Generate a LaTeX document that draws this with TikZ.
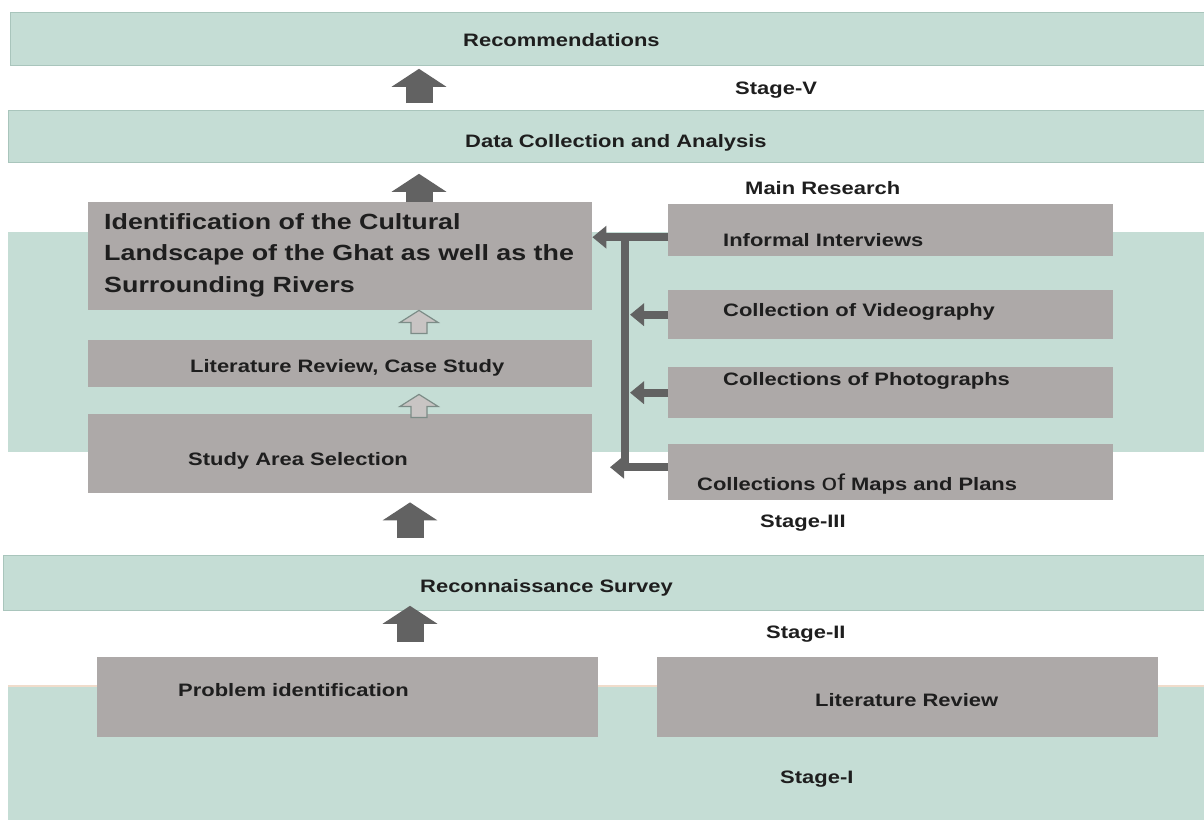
\documentclass[tikz,border=0pt]{standalone}
\usepackage{fontspec}
\setmainfont{Liberation Sans}[FakeStretch=1.22]
\usetikzlibrary{arrows.meta,calc}
\definecolor{teal1}{HTML}{C5DDD5}
\definecolor{tealb}{HTML}{A9C5BC}
\definecolor{boxg}{HTML}{ADA9A8}
\definecolor{dark}{HTML}{626262}
\definecolor{ink}{HTML}{1E1E1E}
\definecolor{hollow}{HTML}{C8C4C3}
\definecolor{holline}{HTML}{7C8C87}
\definecolor{peach}{HTML}{F0DCCB}
\begin{document}
\begin{tikzpicture}[x=1pt,y=-1pt,
  band/.style={fill=teal1, draw=tealb, line width=0.8pt, anchor=north west, inner sep=0pt},
  bgband/.style={fill=teal1, draw=none, anchor=north west, inner sep=0pt},
  greybox/.style={fill=boxg, draw=none, anchor=north west, inner sep=0pt},
  lbl/.style={font=\bfseries\fontsize{18}{20}\selectfont, text=ink, inner sep=0pt, anchor=base west},
  blk/.style={draw=dark, line width=27pt, -{Triangle[width=54pt,length=18pt]}},
  conn/.style={draw=dark, line width=8pt},
  connarr/.style={conn, -{Triangle[width=22pt,length=14pt]}},
  hup/.pic={\path[fill=hollow, draw=holline, line width=1.2pt]
     (-8,0) -- (8,0) -- (8,-11) -- (19,-11) -- (0,-23) -- (-19,-11) -- (-8,-11) -- cycle;}
]
\useasboundingbox (0,0) rectangle (1204,819);
\fill[white] (0,0) rectangle (1204,819);

% bands
\node[band, minimum width=1194pt, minimum height=53pt] (rec) at (10,12) {};
\node[band, minimum width=1196pt, minimum height=52pt] (dc) at (8,110) {};
\node[bgband, minimum width=1196pt, minimum height=220pt] (mr) at (8,232) {};
\node[band, minimum width=1201pt, minimum height=55pt] (rs) at (3,555) {};
\node[bgband, minimum width=1196pt, minimum height=134pt] (s1) at (8,686) {};
\draw[peach, line width=1.5pt] (s1.north west) -- (s1.north east);

% grey boxes
\node[greybox, minimum width=504pt, minimum height=108pt] (idb) at (88,202) {};
\node[greybox, minimum width=504pt, minimum height=47pt] (lrc) at (88,340) {};
\node[greybox, minimum width=504pt, minimum height=79pt] (sas) at (88,414) {};
\node[greybox, minimum width=445pt, minimum height=52pt] (ii) at (668,204) {};
\node[greybox, minimum width=445pt, minimum height=49pt] (cv) at (668,290) {};
\node[greybox, minimum width=445pt, minimum height=51pt] (cp) at (668,367) {};
\node[greybox, minimum width=445pt, minimum height=56pt] (cm) at (668,444) {};
\node[greybox, minimum width=501pt, minimum height=80pt] (pi) at (97,657) {};
\node[greybox, minimum width=501pt, minimum height=80pt] (lr) at (657,657) {};

% texts
\node[lbl] (trec) at (463,46) {Recommendations};
\node[lbl] (ts5) at (735,94) {Stage-V};
\node[lbl] (tdc) at (465,147) {Data Collection and Analysis};
\node[lbl] (tmr) at (745,194) {Main Research};
\node[font=\bfseries\fontsize{22}{31.5}\selectfont, text=ink, inner sep=0pt, anchor=north west, align=left] (tid) at (104,213)
  {Identification of the Cultural\\Landscape of the Ghat as well as the\\Surrounding Rivers};
\node[lbl] (tii) at (723,246) {Informal Interviews};
\node[lbl] (tcv) at (723,316) {Collection of Videography};
\node[lbl] (tcp) at (723,385) {Collections of Photographs};
\node[lbl] (tcm) at (697,490) {Collections {\mdseries\fontsize{23}{23}\selectfont of} Maps and Plans};
\node[lbl] (tlrc) at (190,372) {Literature Review, Case Study};
\node[lbl] (tsas) at (188,465) {Study Area Selection};
\node[lbl] (ts3) at (760,527) {Stage-III};
\node[lbl] (trs) at (420,592) {Reconnaissance Survey};
\node[lbl] (ts2) at (766,638) {Stage-II};
\node[lbl] (tpi) at (178,696) {Problem identification};
\node[lbl] (tlr) at (815,706) {Literature Review};
\node[lbl] (ts1) at (780,783) {Stage-I};

% up block arrows
\coordinate (ax) at (419,0);
\coordinate (bx2) at (410,0);
\draw[blk, shorten <=7pt, shorten >=3pt] (dc.north -| ax) -- (rec.south -| ax);
\draw[blk, shorten >=11pt] (idb.north -| ax) -- (dc.south -| ax);
\draw[blk, shorten <=17pt, shorten >=9pt] (rs.north -| bx2) -- (sas.south -| bx2);
\draw[blk, shorten <=15pt, shorten >=-5pt] (pi.north -| bx2) -- (rs.south -| bx2);

% hollow arrows
\pic at (idb.south -| ax) [yshift=-23pt] {hup};
\pic at (lrc.south -| ax) [yshift=-30pt] {hup};

% right connectors
\coordinate (bx) at (625,0);
\coordinate (t1) at ([yshift=-7pt]ii.west);
\coordinate (t4) at ([yshift=5pt]cm.west);
\draw[conn] ([yshift=4pt]t1 -| bx) -- ([yshift=-4pt]t4 -| bx);
\draw[connarr] (t1) -- (t1 -| idb.east);
\draw[connarr] (cv.west) -- ([xshift=5pt]cv.west -| bx);
\draw[connarr] (cp.west) -- ([xshift=5pt]cp.west -| bx);
\draw[connarr] (t4) -- ([xshift=-15pt]t4 -| bx);
\end{tikzpicture}
\end{document}
